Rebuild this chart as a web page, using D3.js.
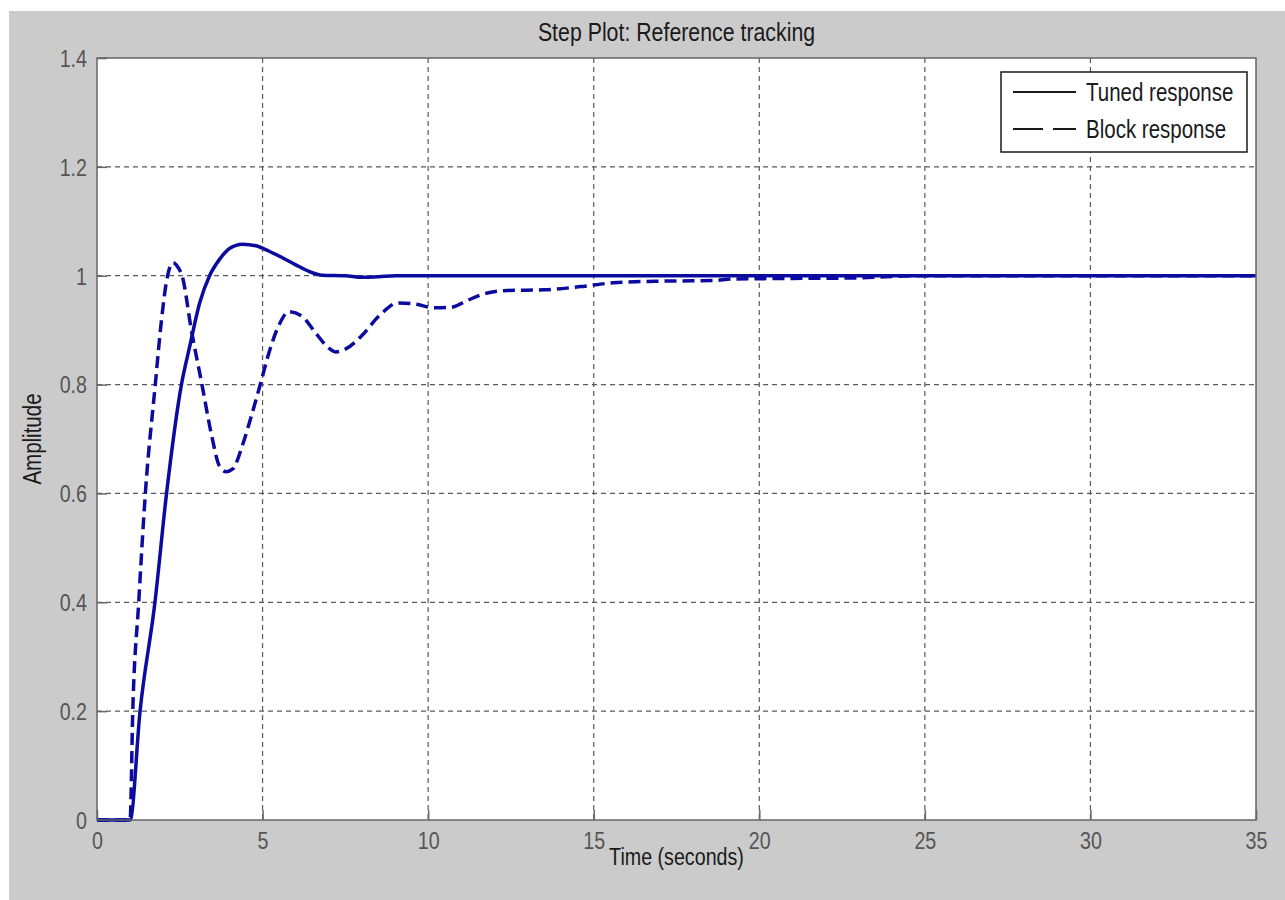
<!DOCTYPE html>
<html>
<head>
<meta charset="utf-8">
<script src="https://cdn.jsdelivr.net/npm/d3@7"></script>
<style>
  body { margin: 0; background: #fff; }
  svg text { font-family: "Liberation Sans", Arial, sans-serif; }
</style>
</head>
<body>
<div class="chart"></div>
<script>
// step response samples
var tunedTime  = [0, 1, 1.3, 1.75, 2.1, 2.55, 2.8, 3.1, 3.4, 3.7, 4.0, 4.4, 4.8, 5.2, 5.6, 6.0, 6.4, 6.8, 7.5, 8.0, 8.5, 9, 35];
var tunedValue = [0, 0, 0.2, 0.4, 0.6, 0.8, 0.87, 0.95, 1.0, 1.03, 1.05, 1.058, 1.055, 1.045, 1.033, 1.02, 1.008, 1.001, 1.0, 0.997, 0.998, 1.0, 1.0];

var blockTime  = [0, 1, 1.08, 1.26, 1.46, 1.76, 1.95, 2.1, 2.3, 2.45, 2.57, 2.85, 3.17, 3.45, 3.7, 3.9, 4.1, 4.4, 4.65, 4.93, 5.2, 5.5, 5.8, 6.2, 6.6, 7.0, 7.2, 7.5, 8.0, 8.5, 9.1, 9.6, 10.2, 10.7, 11.2, 11.6, 12.4, 13.5, 14.6, 15.6, 17, 18.6, 19.2, 21, 23, 24.8, 35];
var blockValue = [0, 0, 0.2, 0.4, 0.6, 0.8, 0.92, 0.99, 1.024, 1.015, 1.0, 0.9, 0.8, 0.71, 0.65, 0.64, 0.645, 0.69, 0.74, 0.8, 0.86, 0.91, 0.934, 0.925, 0.895, 0.867, 0.86, 0.865, 0.89, 0.925, 0.95, 0.948, 0.941, 0.942, 0.955, 0.965, 0.973, 0.974, 0.98, 0.987, 0.99, 0.991, 0.994, 0.995, 0.996, 1.0, 1.0];

var xTicks = [0, 5, 10, 15, 20, 25, 30, 35];
var yTicks = [0, 0.2, 0.4, 0.6, 0.8, 1, 1.2, 1.4];
var seriesNames = ["Tuned response", "Block response"];

var width = 1285, height = 900;
var plot = {left: 97, right: 1256, top: 58, bottom: 820};
var lineColor = "#0b0ba0";
var squeeze = 0.82;   // narrow look of the original font

var svg = d3.select(".chart").append("svg")
  .attr("width", width).attr("height", height);

// figure background
svg.append("rect").attr("x", 9).attr("y", 11)
  .attr("width", width - 9).attr("height", height - 11).attr("fill", "#cbcbcb");
svg.append("rect").attr("x", plot.left).attr("y", plot.top)
  .attr("width", plot.right - plot.left).attr("height", plot.bottom - plot.top).attr("fill", "#fff");

var x = d3.scaleLinear().domain([0, 35]).range([plot.left, plot.right]);
var y = d3.scaleLinear().domain([0, 1.4]).range([plot.bottom, plot.top]);

// grid
var grid = svg.append("g").attr("class", "grid");
grid.selectAll("line.v").data(xTicks.slice(1, -1)).enter().append("line")
  .attr("x1", d => x(d)).attr("x2", d => x(d))
  .attr("y1", plot.top).attr("y2", plot.bottom)
  .attr("stroke", "#5a5a5a").attr("stroke-width", 1.2).attr("stroke-dasharray", "5,4");
grid.selectAll("line.h").data(yTicks.slice(1, -1)).enter().append("line")
  .attr("y1", d => y(d)).attr("y2", d => y(d))
  .attr("x1", plot.left).attr("x2", plot.right)
  .attr("stroke", "#5a5a5a").attr("stroke-width", 1.2).attr("stroke-dasharray", "5,4");

// axes
var xAxis = d3.axisBottom(x).tickValues(xTicks).tickSizeInner(-10).tickSizeOuter(0);
var yAxis = d3.axisLeft(y).tickValues(yTicks).tickSizeInner(-10).tickSizeOuter(0)
  .tickFormat(d3.format(""));

var gx = svg.append("g").attr("transform", "translate(0," + plot.bottom + ")").call(xAxis);
var gy = svg.append("g").attr("transform", "translate(" + plot.left + ",0)").call(yAxis);
[gx, gy].forEach(function(g){
  g.select(".domain").remove();
  g.selectAll(".tick line").attr("stroke", "#666").attr("stroke-width", 1.5);
  g.selectAll(".tick text").attr("fill", "#555").attr("font-size", 24)
    .attr("font-family", "'Liberation Sans', Arial, sans-serif")
    .attr("transform", "scale(" + squeeze + ",1)");
});
gy.selectAll(".tick text").attr("x", -10 / squeeze).attr("dy", "0.35em");
gx.selectAll(".tick text").attr("y", 12).attr("dy", "0.71em");

// curves
var line = d3.line().x(d => x(d[0])).y(d => y(d[1])).curve(d3.curveMonotoneX);
var tuned = tunedTime.map((t, i) => [t, tunedValue[i]]);
var block = blockTime.map((t, i) => [t, blockValue[i]]);

svg.append("path").datum(block).attr("d", line)
  .attr("fill", "none").attr("stroke", lineColor).attr("stroke-width", 3.5)
  .attr("stroke-dasharray", "12,6");
svg.append("path").datum(tuned).attr("d", line)
  .attr("fill", "none").attr("stroke", lineColor).attr("stroke-width", 3.5);

// box
svg.append("rect").attr("x", plot.left).attr("y", plot.top)
  .attr("width", plot.right - plot.left).attr("height", plot.bottom - plot.top)
  .attr("fill", "none").attr("stroke", "#666").attr("stroke-width", 1.5);

// narrow text placed at (px, py)
function label(px, py, txt, size, anchor, rotate) {
  var g = svg.append("g").attr("transform", "translate(" + px + "," + py + ")" + (rotate ? " rotate(-90)" : ""));
  return g.append("text").attr("transform", "scale(" + squeeze + ",1)")
    .attr("text-anchor", anchor).attr("font-size", size).attr("fill", "#1a1a1a")
    .text(txt);
}

label((plot.left + plot.right) / 2, 41, "Step Plot: Reference tracking", 26, "middle");
label((plot.left + plot.right) / 2, 865, "Time (seconds)", 24, "middle");
label(41, 439, "Amplitude", 25, "middle", true);

// legend
legendBox = svg.append("rect").attr("x", 1001).attr("y", 72).attr("width", 246).attr("height", 80)
  .attr("fill", "#fff").attr("stroke", "#1a1a1a").attr("stroke-width", 1.5);
seriesNames.forEach(function(name, i){
  var ly = 92 + i * 37;
  svg.append("line").attr("x1", 1013).attr("x2", 1076).attr("y1", ly).attr("y2", ly)
    .attr("stroke", "#1a1a1a").attr("stroke-width", 2)
    .attr("stroke-dasharray", i === 1 ? "30,10" : null);
  label(1086, ly + 9, name, 25, "start");
});
</script>
</body>
</html>
